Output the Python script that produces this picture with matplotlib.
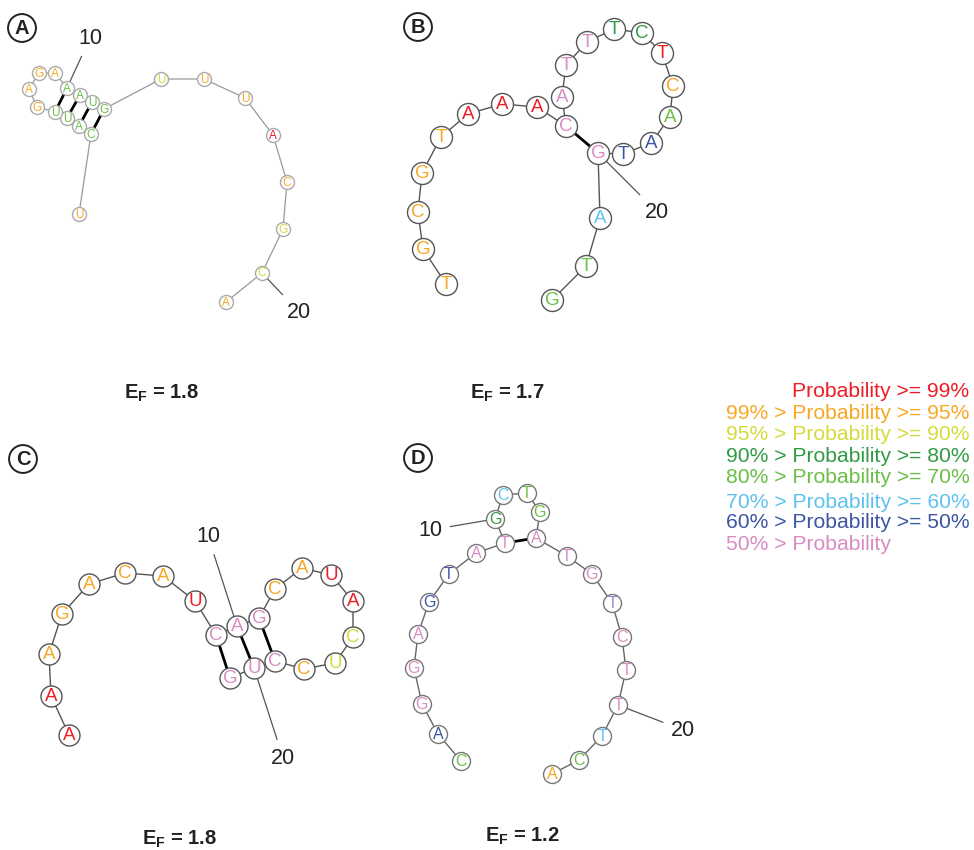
import numpy as np
import matplotlib
matplotlib.use("Agg")
import matplotlib.pyplot as plt

plt.rcParams['font.family'] = ['Liberation Sans', 'DejaVu Sans']
plt.rcParams['mathtext.fontset'] = 'custom'
plt.rcParams['mathtext.bf'] = 'Liberation Sans:bold'
plt.rcParams['mathtext.rm'] = 'Liberation Sans'

# -------------------------
# Probability classes
# -------------------------
class_colors = ["#ee1c25", "#f7a823", "#d5db3b", "#319a45", "#6bbf47",
                "#5ec2ee", "#3c55a5", "#d98cc2", "#8d8ccc"]
legend_text = ["Probability >= 99%",
               "99% > Probability >= 95%",
               "95% > Probability >= 90%",
               "90% > Probability >= 80%",
               "80% > Probability >= 70%",
               "70% > Probability >= 60%",
               "60% > Probability >= 50%",
               "50% > Probability"]

# -------------------------
# Panel A
# -------------------------
seq_a = "UCAUUGAGAAAUGUUUACGCA"
cls_a = [1, 4, 4, 4, 4, 1, 1, 1, 1, 4, 4, 4, 4, 2, 1, 1, 0, 1, 2, 2, 1]
x_a = [79, 91, 79, 67, 55, 37, 29, 39, 55, 67, 80, 92, 104, 161, 204, 245, 273, 287, 283, 262, 226]
y_a = [214, 134, 126, 118, 112, 107, 89, 73, 73, 88, 95, 102, 109, 79, 79, 98, 135, 182, 229, 273, 302]
pairs_a = [(2, 13), (3, 12), (4, 11), (5, 10)]
ef_a = "1.8"

# -------------------------
# Panel B
# -------------------------
seq_b = "TGCGTAAACATTTCTCAATGATG"
cls_b = [1, 1, 1, 1, 1, 0, 0, 0, 7, 7, 7, 7, 3, 3, 0, 1, 4, 6, 6, 7, 5, 4, 4]
x_b = [446, 423, 418, 422, 441, 468, 502, 537, 566, 562, 566, 587, 614, 642, 662, 673, 670, 651, 623, 598, 600, 586, 552]
y_b = [284, 249, 212, 173, 137, 114, 104, 107, 126, 97, 65, 42, 29, 33, 53, 86, 117, 143, 154, 153, 218, 266, 300]
pairs_b = [(9, 20)]
ef_b = "1.7"

# -------------------------
# Panel C
# -------------------------
seq_c = "AAAGACAUCAGCAUACUCCUG"
cls_c = [0, 0, 1, 1, 1, 1, 1, 0, 7, 7, 7, 1, 1, 0, 0, 2, 2, 1, 7, 7, 7]
x_c = [69, 51, 49, 62, 89, 125, 163, 195, 216, 237, 259, 275, 302, 331, 353, 353, 335, 304, 275, 254, 230]
y_c = [735, 696, 654, 614, 584, 573, 576, 601, 635, 626, 618, 589, 568, 575, 601, 637, 663, 669, 661, 668, 678]
pairs_c = [(9, 21), (10, 20), (11, 19)]
ef_c = "1.8"

# -------------------------
# Panel D
# -------------------------
seq_d = "CAGGAGTATGCTGATGTCTTTCA"
cls_d = [4, 6, 7, 7, 7, 6, 6, 7, 7, 3, 5, 4, 4, 7, 7, 7, 8, 7, 7, 7, 5, 4, 1]
x_d = [461, 438, 422, 414, 418, 429, 449, 476, 505, 495, 503, 527, 540, 536, 567, 592, 612, 622, 626, 618, 602, 579, 552]
y_d = [761, 734, 704, 668, 634, 602, 574, 553, 543, 519, 495, 493, 512, 538, 556, 574, 603, 637, 670, 705, 736, 760, 774]
pairs_d = [(9, 14)]
ef_d = "1.2"


def draw_panel(ax, seq, cls, xs, ys, pairs, d_px, font_pt, edge, bb_color, bb_lw):
    xs = np.array(xs)
    ys = np.array(ys)
    # backbone
    ax.plot(xs, ys, color=bb_color, lw=bb_lw, zorder=1, solid_capstyle='round')
    # base pairs (1-based)
    for i, j in pairs:
        ax.plot([xs[i-1], xs[j-1]], [ys[i-1], ys[j-1]], color='black', lw=2.0, zorder=1)
    ax.scatter(xs, ys, s=(d_px*0.72)**2, facecolor='white', edgecolor=edge,
               linewidth=1.0, zorder=2)
    for k, ch in enumerate(seq):
        ax.text(xs[k], ys[k] + 0.5, ch, color=class_colors[cls[k]], fontsize=font_pt,
                ha='center', va='center', zorder=3)


def num_label(ax, xs, ys, idx, txt, pos):
    ax.annotate(txt, xy=(xs[idx-1], ys[idx-1]), xytext=pos, fontsize=15.5,
                ha='center', va='center', color='#222222', zorder=0,
                arrowprops=dict(arrowstyle='-', color='#555555', lw=0.9,
                                shrinkA=4, shrinkB=0))


def ef_label(ax, pos, val):
    ax.text(pos[0], pos[1], r'$\mathbf{E_F}$' + ' = ' + val, fontsize=14.5,
            fontweight='bold', ha='center', va='center', color='#222222')


def panel_letter(ax, pos, letter):
    ax.text(pos[0], pos[1], letter, fontsize=14.5, fontweight='bold', ha='center',
            va='center', color='#222222',
            bbox=dict(boxstyle='circle,pad=0.22', fc='white', ec='#222222', lw=1.4))


fig = plt.figure(figsize=(9.74, 8.5), dpi=100)
ax = fig.add_axes([0, 0, 1, 1])
ax.set_xlim(0, 974)
ax.set_ylim(850, 0)
ax.axis('off')

draw_panel(ax, seq_a, cls_a, x_a, y_a, pairs_a, 14, 8.5, '#aaaaaa', '#999999', 0.9)
draw_panel(ax, seq_b, cls_b, x_b, y_b, pairs_b, 22, 13.5, '#555555', '#555555', 1.0)
draw_panel(ax, seq_c, cls_c, x_c, y_c, pairs_c, 21, 13.5, '#555555', '#555555', 1.0)
draw_panel(ax, seq_d, cls_d, x_d, y_d, pairs_d, 18, 11.5, '#777777', '#666666', 1.0)

num_label(ax, x_a, y_a, 10, "10", (90, 38))
num_label(ax, x_a, y_a, 20, "20", (299, 312))
num_label(ax, x_b, y_b, 20, "20", (657, 212))
num_label(ax, x_c, y_c, 10, "10", (208, 536))
num_label(ax, x_c, y_c, 20, "20", (283, 758))
num_label(ax, x_d, y_d, 10, "10", (430, 530))
num_label(ax, x_d, y_d, 20, "20", (683, 730))

ef_label(ax, (162, 393), ef_a)
ef_label(ax, (507, 393), ef_b)
ef_label(ax, (180, 839), ef_c)
ef_label(ax, (522, 836), ef_d)

panel_letter(ax, (22, 28), "A")
panel_letter(ax, (418, 27), "B")
panel_letter(ax, (23, 459), "C")
panel_letter(ax, (418, 458), "D")

# legend
leg_y = [391, 413, 434, 456, 477, 502, 523, 545]
for k, (t, y) in enumerate(zip(legend_text, leg_y)):
    if k == 0:
        ax.text(969, y, t, color=class_colors[k], fontsize=15.2, ha='right', va='center')
    else:
        ax.text(726, y, t, color=class_colors[k], fontsize=15.2, ha='left', va='center')

fig.savefig("out.png", dpi=100)
